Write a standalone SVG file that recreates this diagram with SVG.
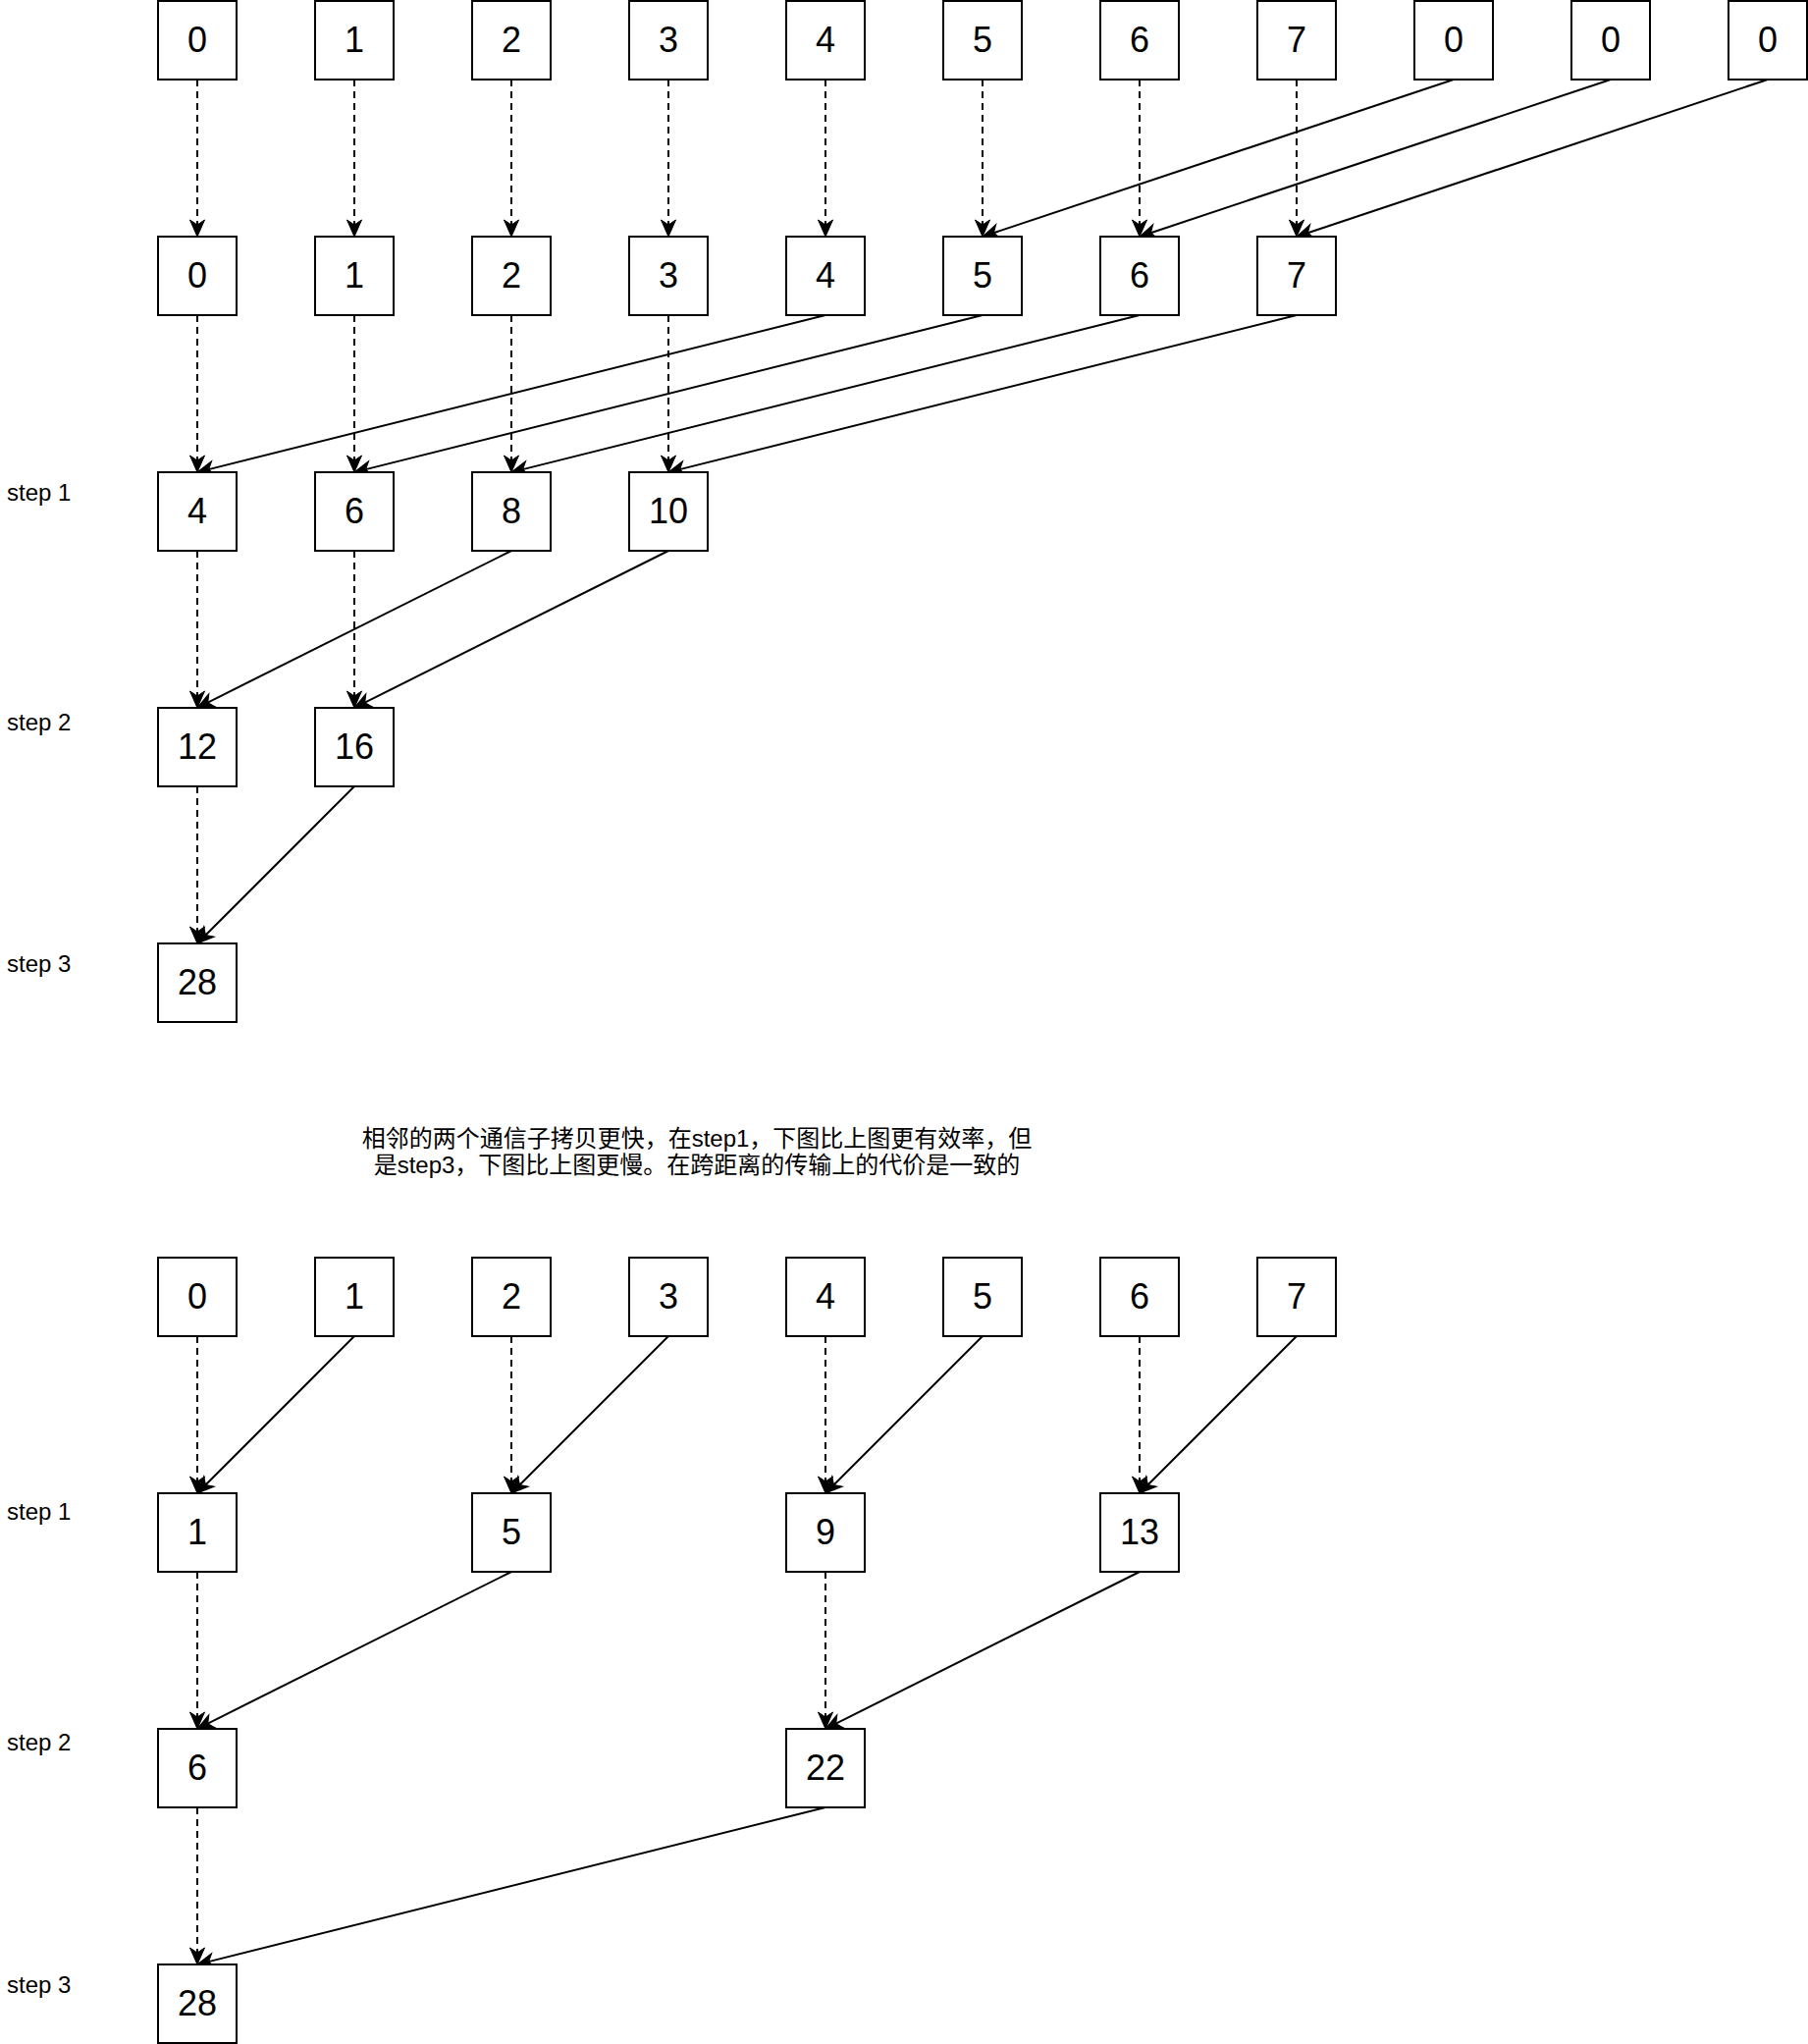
<svg xmlns="http://www.w3.org/2000/svg" width="1842" height="2082" viewBox="0 0 1842 2082">
  <style>
    .box rect { fill: #ffffff; stroke: #000000; stroke-width: 2; }
    .box text { font-family: "Liberation Sans", Arial, sans-serif; font-size: 36px; fill: #000000; text-anchor: middle; }
    .lbl { font-family: "Liberation Sans", Arial, sans-serif; font-size: 24px; fill: #000000; }
    .note { font-family: "Liberation Sans", "Noto Sans CJK SC", sans-serif; font-size: 24px; fill: #000000; text-anchor: middle; }
    .edge { fill: none; stroke: #000000; stroke-width: 2; marker-end: url(#arrow); }
    .dash { stroke-dasharray: 7 5; }
  </style>
  <defs>
    <!-- classic notched arrowhead; the line stops at the notch, the tip sits 12px further on -->
    <marker id="arrow" markerUnits="userSpaceOnUse" markerWidth="40" markerHeight="40" refX="0" refY="0" orient="auto" overflow="visible">
      <path d="M12,0 L-5,-7.5 L0,0 L-5,7.5 Z" fill="#000000" stroke="#000000" stroke-width="1"/>
    </marker>
  </defs>
  <rect width="1842" height="2082" fill="#ffffff"/>

  <!-- step labels -->
  <g id="labels">
    <text class="lbl" x="7" y="510">step 1</text>
    <text class="lbl" x="7" y="744">step 2</text>
    <text class="lbl" x="7" y="990">step 3</text>
    <text class="lbl" x="7" y="1548">step 1</text>
    <text class="lbl" x="7" y="1783">step 2</text>
    <text class="lbl" x="7" y="2030">step 3</text>
  </g>

  <g id="note">
    <text class="note" x="710" y="1168">相邻的两个通信子拷贝更快，在step1，下图比上图更有效率，但</text>
    <text class="note" x="710" y="1195">是step3，下图比上图更慢。在跨距离的传输上的代价是一致的</text>
  </g>

  <!-- connectors -->
  <g id="connectors">
    <!-- upper tree: padding row to 8 slots -->
    <path class="edge dash" d="M201,81 L201,229"/>
    <path class="edge dash" d="M361,81 L361,229"/>
    <path class="edge dash" d="M521,81 L521,229"/>
    <path class="edge dash" d="M681,81 L681,229"/>
    <path class="edge dash" d="M841,81 L841,229"/>
    <path class="edge dash" d="M1001,81 L1001,229"/>
    <path class="edge dash" d="M1161,81 L1161,229"/>
    <path class="edge dash" d="M1321,81 L1321,229"/>
    <path class="edge" d="M1481,81 L1012.4,237.2"/>
    <path class="edge" d="M1641,81 L1172.4,237.2"/>
    <path class="edge" d="M1801,81 L1332.4,237.2"/>
    <!-- upper tree: step 1 -->
    <path class="edge dash" d="M201,321 L201,469"/>
    <path class="edge dash" d="M361,321 L361,469"/>
    <path class="edge dash" d="M521,321 L521,469"/>
    <path class="edge dash" d="M681,321 L681,469"/>
    <path class="edge" d="M841,321 L212.6,478.1"/>
    <path class="edge" d="M1001,321 L372.6,478.1"/>
    <path class="edge" d="M1161,321 L532.6,478.1"/>
    <path class="edge" d="M1321,321 L692.6,478.1"/>
    <!-- upper tree: step 2 -->
    <path class="edge dash" d="M201,561 L201,709"/>
    <path class="edge dash" d="M361,561 L361,709"/>
    <path class="edge" d="M521,561 L211.7,715.6"/>
    <path class="edge" d="M681,561 L371.7,715.6"/>
    <!-- upper tree: step 3 -->
    <path class="edge dash" d="M201,801 L201,949"/>
    <path class="edge" d="M361,801 L209.5,952.5"/>

    <!-- lower tree: step 1 -->
    <path class="edge dash" d="M201,1361 L201,1509"/>
    <path class="edge dash" d="M521,1361 L521,1509"/>
    <path class="edge dash" d="M841,1361 L841,1509"/>
    <path class="edge dash" d="M1161,1361 L1161,1509"/>
    <path class="edge" d="M361,1361 L209.5,1512.5"/>
    <path class="edge" d="M681,1361 L529.5,1512.5"/>
    <path class="edge" d="M1001,1361 L849.5,1512.5"/>
    <path class="edge" d="M1321,1361 L1169.5,1512.5"/>
    <!-- lower tree: step 2 -->
    <path class="edge dash" d="M201,1601 L201,1749"/>
    <path class="edge dash" d="M841,1601 L841,1749"/>
    <path class="edge" d="M521,1601 L211.7,1755.6"/>
    <path class="edge" d="M1161,1601 L851.7,1755.6"/>
    <!-- lower tree: step 3 -->
    <path class="edge dash" d="M201,1841 L201,1989"/>
    <path class="edge" d="M841,1841 L212.6,1998.1"/>
  </g>

  <!-- upper tree, input row -->
  <g id="u0-0" class="box"><rect x="161" y="1" width="80" height="80"/><text x="201" y="53">0</text></g>
  <g id="u0-1" class="box"><rect x="321" y="1" width="80" height="80"/><text x="361" y="53">1</text></g>
  <g id="u0-2" class="box"><rect x="481" y="1" width="80" height="80"/><text x="521" y="53">2</text></g>
  <g id="u0-3" class="box"><rect x="641" y="1" width="80" height="80"/><text x="681" y="53">3</text></g>
  <g id="u0-4" class="box"><rect x="801" y="1" width="80" height="80"/><text x="841" y="53">4</text></g>
  <g id="u0-5" class="box"><rect x="961" y="1" width="80" height="80"/><text x="1001" y="53">5</text></g>
  <g id="u0-6" class="box"><rect x="1121" y="1" width="80" height="80"/><text x="1161" y="53">6</text></g>
  <g id="u0-7" class="box"><rect x="1281" y="1" width="80" height="80"/><text x="1321" y="53">7</text></g>
  <g id="u0-8" class="box"><rect x="1441" y="1" width="80" height="80"/><text x="1481" y="53">0</text></g>
  <g id="u0-9" class="box"><rect x="1601" y="1" width="80" height="80"/><text x="1641" y="53">0</text></g>
  <g id="u0-10" class="box"><rect x="1761" y="1" width="80" height="80"/><text x="1801" y="53">0</text></g>

  <!-- upper tree, folded row -->
  <g id="u1-0" class="box"><rect x="161" y="241" width="80" height="80"/><text x="201" y="293">0</text></g>
  <g id="u1-1" class="box"><rect x="321" y="241" width="80" height="80"/><text x="361" y="293">1</text></g>
  <g id="u1-2" class="box"><rect x="481" y="241" width="80" height="80"/><text x="521" y="293">2</text></g>
  <g id="u1-3" class="box"><rect x="641" y="241" width="80" height="80"/><text x="681" y="293">3</text></g>
  <g id="u1-4" class="box"><rect x="801" y="241" width="80" height="80"/><text x="841" y="293">4</text></g>
  <g id="u1-5" class="box"><rect x="961" y="241" width="80" height="80"/><text x="1001" y="293">5</text></g>
  <g id="u1-6" class="box"><rect x="1121" y="241" width="80" height="80"/><text x="1161" y="293">6</text></g>
  <g id="u1-7" class="box"><rect x="1281" y="241" width="80" height="80"/><text x="1321" y="293">7</text></g>

  <!-- upper tree, steps -->
  <g id="u2-0" class="box"><rect x="161" y="481" width="80" height="80"/><text x="201" y="533">4</text></g>
  <g id="u2-1" class="box"><rect x="321" y="481" width="80" height="80"/><text x="361" y="533">6</text></g>
  <g id="u2-2" class="box"><rect x="481" y="481" width="80" height="80"/><text x="521" y="533">8</text></g>
  <g id="u2-3" class="box"><rect x="641" y="481" width="80" height="80"/><text x="681" y="533">10</text></g>
  <g id="u3-0" class="box"><rect x="161" y="721" width="80" height="80"/><text x="201" y="773">12</text></g>
  <g id="u3-1" class="box"><rect x="321" y="721" width="80" height="80"/><text x="361" y="773">16</text></g>
  <g id="u4-0" class="box"><rect x="161" y="961" width="80" height="80"/><text x="201" y="1013">28</text></g>

  <!-- lower tree, input row -->
  <g id="l0-0" class="box"><rect x="161" y="1281" width="80" height="80"/><text x="201" y="1333">0</text></g>
  <g id="l0-1" class="box"><rect x="321" y="1281" width="80" height="80"/><text x="361" y="1333">1</text></g>
  <g id="l0-2" class="box"><rect x="481" y="1281" width="80" height="80"/><text x="521" y="1333">2</text></g>
  <g id="l0-3" class="box"><rect x="641" y="1281" width="80" height="80"/><text x="681" y="1333">3</text></g>
  <g id="l0-4" class="box"><rect x="801" y="1281" width="80" height="80"/><text x="841" y="1333">4</text></g>
  <g id="l0-5" class="box"><rect x="961" y="1281" width="80" height="80"/><text x="1001" y="1333">5</text></g>
  <g id="l0-6" class="box"><rect x="1121" y="1281" width="80" height="80"/><text x="1161" y="1333">6</text></g>
  <g id="l0-7" class="box"><rect x="1281" y="1281" width="80" height="80"/><text x="1321" y="1333">7</text></g>

  <!-- lower tree, steps -->
  <g id="l1-0" class="box"><rect x="161" y="1521" width="80" height="80"/><text x="201" y="1573">1</text></g>
  <g id="l1-1" class="box"><rect x="481" y="1521" width="80" height="80"/><text x="521" y="1573">5</text></g>
  <g id="l1-2" class="box"><rect x="801" y="1521" width="80" height="80"/><text x="841" y="1573">9</text></g>
  <g id="l1-3" class="box"><rect x="1121" y="1521" width="80" height="80"/><text x="1161" y="1573">13</text></g>
  <g id="l2-0" class="box"><rect x="161" y="1761" width="80" height="80"/><text x="201" y="1813">6</text></g>
  <g id="l2-1" class="box"><rect x="801" y="1761" width="80" height="80"/><text x="841" y="1813">22</text></g>
  <g id="l3-0" class="box"><rect x="161" y="2001" width="80" height="80"/><text x="201" y="2053">28</text></g>
</svg>
